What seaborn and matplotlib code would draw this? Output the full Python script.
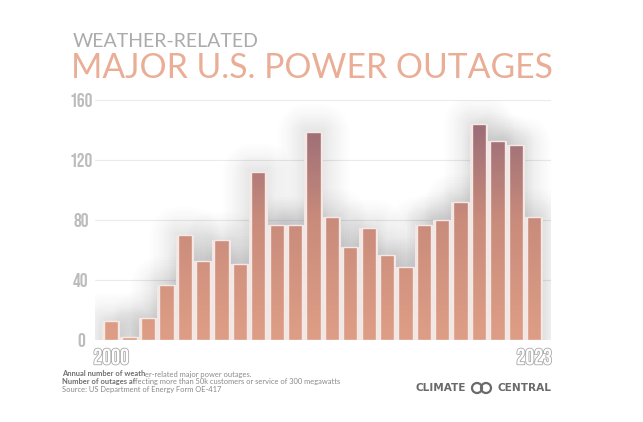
import numpy as np
import pandas as pd
import matplotlib
matplotlib.use("Agg")
import matplotlib.pyplot as plt
import matplotlib.patheffects as pe
from matplotlib.colors import LinearSegmentedColormap
from matplotlib.patches import Ellipse
import seaborn as sns

# ---- data ----
years = [str(y) for y in range(2000, 2024)]
outages = [13, 2, 15, 37, 70, 53, 67, 51, 112, 77, 77, 139,
           82, 62, 75, 57, 49, 77, 80, 92, 144, 133, 130, 82]
y_ticks = [0, 40, 80, 120, 160]
x_tick_years = ["2000", "2023"]

title_small = "WEATHER-RELATED"
title_big = "MAJOR U.S. POWER OUTAGES"
notes = [
    [("Annual number of weath", "bold"), ("er-related major power outages.", "normal")],
    [("Number of outages af", "bold"),
     ("fecting more than 50k customers or service of 300 megawatts", "normal")],
    [("Source: US Department of Energy Form OE-417", "normal")],
]

df = pd.DataFrame({"year": years, "outages": outages})

sns.set_theme(style="white")
plt.rcParams["font.family"] = ["Lato", "DejaVu Sans"]

W, H = 643, 422
fig = plt.figure(figsize=(W / 100, H / 100), dpi=100)
fig.patch.set_facecolor("white")

left_px, right_px, top_px, bot_px = 94.6, 550.8, 100, 340
ax = fig.add_axes([left_px / W, (H - bot_px) / H,
                   (right_px - left_px) / W, (bot_px - top_px) / H])
ax.set_facecolor("none")

BAR_W = 0.78

# shadow / glow layer
sns.barplot(data=df, x="year", y="outages", width=BAR_W, color="#9a9a9a",
            ax=ax, zorder=1, saturation=1)
glow = [pe.Stroke(linewidth=lw, foreground="#70707a", alpha=0.011, joinstyle="round")
        for lw in (4, 7, 10, 13, 16, 19, 22, 25, 28, 32, 36, 40)]
for p in ax.patches:
    p.set_path_effects(glow + [pe.Normal()])
    p.set_alpha(0.0)
    p.set_edgecolor("none")
n_shadow = len(ax.patches)

# light fill behind gaps
sns.barplot(data=df, x="year", y="outages", width=1.0, color="#f1e8e6",
            ax=ax, zorder=1.5, saturation=1)
for p in ax.patches[n_shadow:]:
    p.set_edgecolor("none")
n_light = len(ax.patches)

# main bars
sns.barplot(data=df, x="year", y="outages", width=BAR_W, color="#d99a82",
            ax=ax, zorder=2, saturation=1)
main = ax.patches[n_light:]

cmap = LinearSegmentedColormap.from_list(
    "grad", [(0.0, "#de9e86"), (0.5, "#c98b7b"), (0.9, "#9b6d77"), (1.0, "#946674")])
grad = np.linspace(0, 1, 256).reshape(-1, 1)
for p in main:
    p.set_facecolor("none")
    p.set_edgecolor("#f6e8e4")
    p.set_linewidth(1.0)
    x0 = p.get_x()
    im = ax.imshow(grad, cmap=cmap, origin="lower", aspect="auto",
                   extent=(x0, x0 + p.get_width(), 0, 160), zorder=1.9,
                   interpolation="bilinear")
    im.set_clip_path(p)

ax.set_xlim(-0.9, 23.9)
ax.set_ylim(0, 160)
ax.set_aspect("auto")

# grid
for v in y_ticks[1:]:
    ax.axhline(v, color="#ebebeb", lw=0.8, zorder=0.5)

for s in ax.spines.values():
    s.set_visible(False)

NUM_FONT = ["Bebas Neue", "DejaVu Sans"]
ax.set_xlabel("")
ax.set_ylabel("")
ax.set_yticks(y_ticks)
ax.set_yticklabels([str(v) for v in y_ticks], family=NUM_FONT,
                   fontsize=14, color="#bcbcbc")
for t in ax.get_yticklabels():
    t.set_horizontalalignment("center")
ax.tick_params(axis="y", length=0, pad=9.8)

ax.set_xticks([years.index(y) for y in x_tick_years])
ax.set_xticklabels(x_tick_years, family=NUM_FONT,
                   fontsize=16, color="white")
for t in ax.get_xticklabels():
    t.set_path_effects([pe.withStroke(linewidth=1.2, foreground="#a9a9a9")])
ax.tick_params(axis="x", length=0, pad=6)

# titles
fig.text(73 / W, 1 - 47 / H, title_small, fontsize=14, fontweight="normal",
         color="#ababab", va="baseline", ha="left")
fig.text(71 / W, 1 - 78 / H, title_big, fontsize=24.3, fontweight="normal",
         color="#eaad96", va="baseline", ha="left")

# footnotes
renderer = fig.canvas.get_renderer()
for i, pieces in enumerate(notes):
    x = 62 / W
    y = 1 - (374 + 7.7 * i) / H
    for txt, wt in pieces:
        t = fig.text(x, y, txt, fontsize=5.4, fontweight=wt,
                     color="#6f6f6f" if wt == "bold" else "#8a8a8a",
                     va="center", ha="left")
        bb = t.get_window_extent(renderer)
        x = bb.x1 / fig.bbox.width

# logo
logo_y = 1 - 388 / H
fig.text(416 / W, logo_y, "CLIMATE", fontsize=7.6, fontweight="bold",
         family=["DejaVu Sans"], color="#6a6a6a", va="center", ha="left")
fig.text(552 / W, logo_y, "CENTRAL", fontsize=7.6, fontweight="bold",
         family=["DejaVu Sans"], color="#6a6a6a", va="center", ha="right")
for cx in (477, 486):
    fig.add_artist(Ellipse((cx / W, logo_y), 10 / W, 10 / H, fill=False,
                           edgecolor="#6a6a6a", lw=1.6, transform=fig.transFigure))

fig.savefig("out.png", dpi=100, facecolor="white")
